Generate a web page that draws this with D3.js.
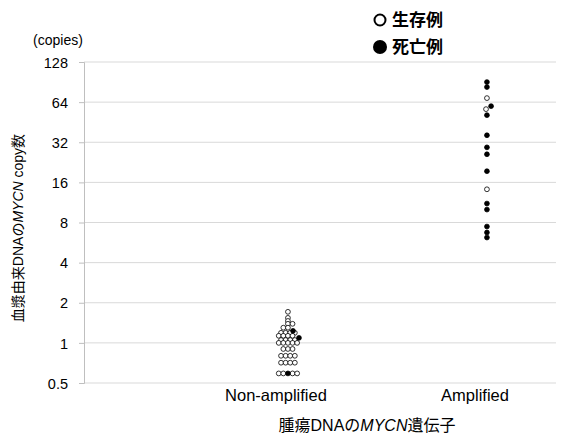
<!DOCTYPE html>
<html lang="ja">
<head>
<meta charset="UTF-8">
<title>MYCN copy number</title>
<script src="https://cdn.jsdelivr.net/npm/d3@7"></script>
<style>
    body { margin: 0; background: #fff; }
    svg text { font-family: "Liberation Sans", Arial, "Noto Sans CJK JP", sans-serif; fill: #000; }
</style>
</head>
<body>
<script>
    // data: [copies, column slot inside the dot stack]
    const groups = ["Non-amplified", "Amplified"];
    const yTicks = [0.5, 1, 2, 4, 8, 16, 32, 64, 128];

    const nonAmpSurvived = [
        [1.71, 0], [1.54, 0], [1.46, 0], [1.39, 0], [1.39, 1],
        [1.30, -1], [1.30, 0],
        [1.19, -1.5], [1.19, -0.5], [1.19, 0.5], [1.19, 1.5],
        [1.13, -2], [1.13, -1], [1.13, 0], [1.13, 1],
        [1.05, -1.5], [1.05, -0.5], [1.05, 0.5], [1.05, 1.5],
        [1.0, -2], [1.0, -1], [1.0, 0], [1.0, 1], [1.0, 2],
        [0.90, -1], [0.90, 0], [0.90, 1],
        [0.80, -1.5], [0.80, -0.5], [0.80, 0.5], [0.80, 1.5],
        [0.71, -1.5], [0.71, -0.5], [0.71, 0.5], [0.71, 1.5],
        [0.59, -2], [0.59, -1], [0.59, 1], [0.59, 2]
    ];
    const nonAmpDied = [[1.23, 1.1], [1.09, 2.4], [0.59, 0]];

    const ampSurvived = [[68.6, 0], [56.7, -0.2], [14.2, 0]];
    const ampDied = [
        [90.5, 0], [83, 0], [59.7, 0.9], [51.1, 0], [36.1, 0], [29.3, 0],
        [26, 0], [19.4, 0], [11.1, 0], [10.0, 0], [7.46, 0], [6.73, 0], [6.17, 0]
    ];

    const width = 570, height = 435;
    const svg = d3.select("body").append("svg")
        .attr("width", width).attr("height", height);

    const y = d3.scaleLog().base(2).domain([0.5, 128]).range([383, 62]);
    const x = d3.scaleLinear().domain([1, 2]).range([276, 475]);
    const axisX = 84, gridRight = 556;
    const dotGap = 4.6, dotR = 2.4;

    // gridlines
    svg.append("g")
        .selectAll("line")
        .data(yTicks)
        .join("line")
        .attr("x1", axisX).attr("x2", gridRight)
        .attr("y1", d => y(d)).attr("y2", d => y(d))
        .attr("stroke", "#d9d9d9").attr("stroke-width", 1);

    // y axis
    const yAxis = svg.append("g")
        .attr("transform", `translate(${axisX},0)`)
        .call(d3.axisLeft(y).tickValues(yTicks).tickFormat(d => d).tickSize(5).tickPadding(11));
    yAxis.select(".domain").attr("stroke", "#bfbfbf");
    yAxis.selectAll(".tick line").attr("stroke", "#bfbfbf");
    yAxis.selectAll(".tick text")
        .style("font-size", "14.5px")
        .attr("dy", "0.36em");

    // x labels
    svg.append("g")
        .selectAll("text")
        .data(groups)
        .join("text")
        .attr("x", (d, i) => x(i + 1))
        .attr("y", 401)
        .attr("text-anchor", "middle")
        .style("font-size", "16.5px")
        .text(d => d);

    // dots
    function drawDots(data, g, filled) {
        svg.append("g")
            .selectAll("circle")
            .data(data)
            .join("circle")
            .attr("cx", d => x(g + 0.06) + d[1] * dotGap)
            .attr("cy", d => y(d[0]))
            .attr("r", dotR)
            .attr("fill", filled ? "#000" : "#fff")
            .attr("stroke", "#000")
            .attr("stroke-width", 0.8);
    }
    drawDots(nonAmpSurvived, 1, false);
    drawDots(nonAmpDied, 1, true);
    drawDots(ampSurvived, 2, false);
    drawDots(ampDied, 2, true);

    // units label
    svg.append("text")
        .attr("x", 58).attr("y", 45)
        .attr("text-anchor", "middle")
        .style("font-size", "14px")
        .text("(copies)");

    // y title
    const yTitle = svg.append("text")
        .attr("transform", "translate(23,228) rotate(-90)")
        .attr("text-anchor", "middle")
        .style("font-size", "14px");
    yTitle.append("tspan").text("血漿由来DNAの");
    yTitle.append("tspan").style("font-style", "italic").text("MYCN");
    yTitle.append("tspan").text(" copy数");

    // x title
    const xTitle = svg.append("text")
        .attr("x", 367).attr("y", 431)
        .attr("text-anchor", "middle")
        .style("font-size", "16px");
    xTitle.append("tspan").text("腫瘍DNAの");
    xTitle.append("tspan").style("font-style", "italic").text("MYCN");
    xTitle.append("tspan").text("遺伝子");

    // legend
    const legend = [
        { label: "生存例", filled: false, y: 20 },
        { label: "死亡例", filled: true, y: 47 }
    ];
    const lg = svg.append("g").selectAll("g").data(legend).join("g")
        .attr("transform", d => `translate(380,${d.y})`);
    lg.append("circle")
        .attr("r", d => d.filled ? 7 : 5.5)
        .attr("fill", d => d.filled ? "#000" : "#fff")
        .attr("stroke", "#000")
        .attr("stroke-width", d => d.filled ? 0 : 2);
    lg.append("text")
        .attr("x", 12).attr("dy", "0.36em")
        .style("font-size", "17px").style("font-weight", "bold")
        .text(d => d.label);
</script>
</body>
</html>
